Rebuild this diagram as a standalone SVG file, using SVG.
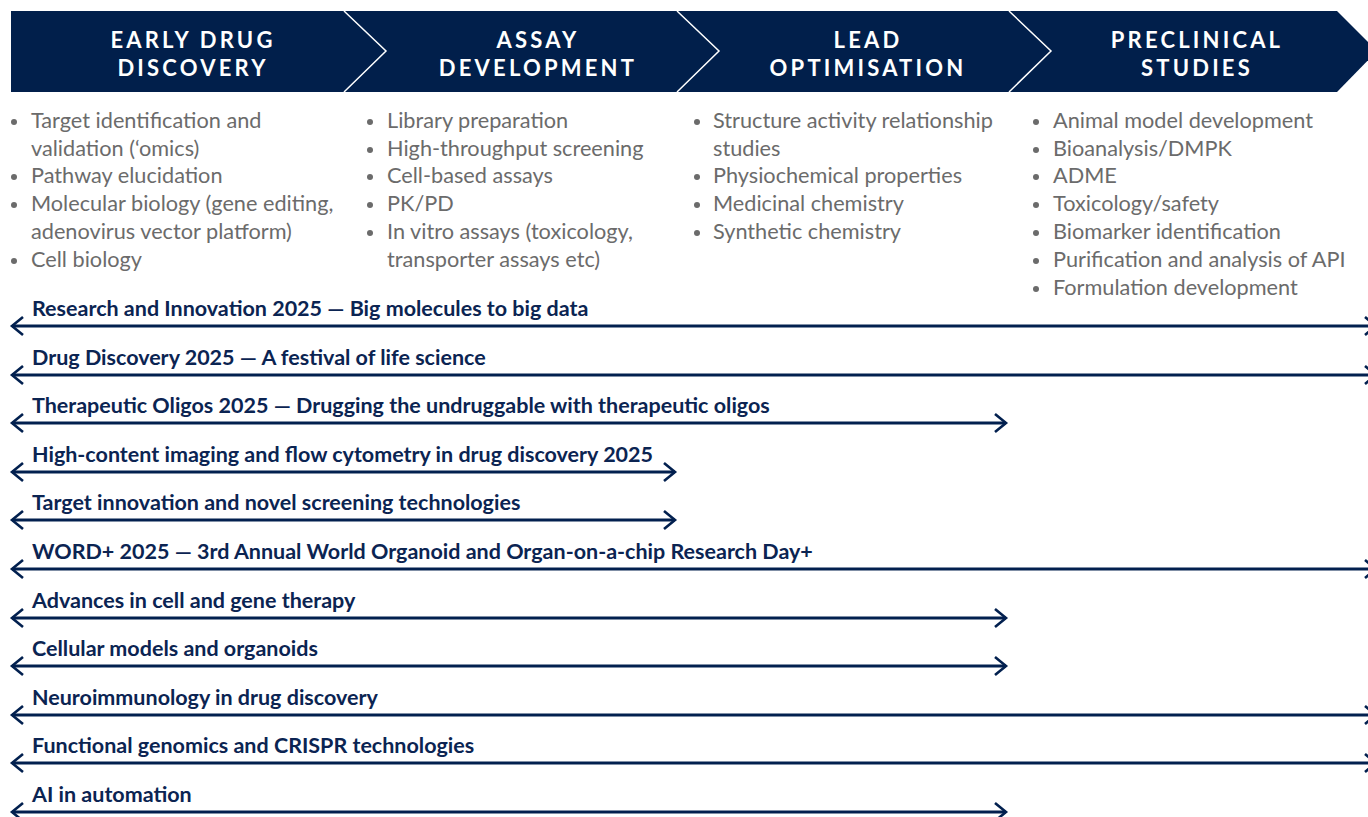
<svg xmlns="http://www.w3.org/2000/svg" width="1368" height="817" viewBox="0 0 1368 817">
<defs>
<style>
.hd{font-family:Lato,"Open Sans","Liberation Sans",sans-serif;font-weight:700;font-size:22px;fill:#ffffff;letter-spacing:3.2px;text-anchor:middle}
.bl{font-family:Lato,"Open Sans","Liberation Sans",sans-serif;font-size:21.7px;fill:#6b6b6b}
.ev{font-family:Lato,"Open Sans","Liberation Sans",sans-serif;font-weight:700;font-size:21.5px;fill:#0b2452}
.dot{fill:#6b6b6b}
.sep{fill:none;stroke:#ffffff;stroke-width:1.5}
.ar{stroke:#02204f;stroke-width:3;fill:none;marker-start:url(#ah);marker-end:url(#ah)}
</style>
<marker id="ah" viewBox="-13 -11 15 22" refX="0" refY="0" markerWidth="15" markerHeight="22" markerUnits="userSpaceOnUse" orient="auto-start-reverse" overflow="visible">
<path d="M-11,-9 L0,0 L-11,9" fill="none" stroke="#02204f" stroke-width="2.6"/>
</marker>
</defs>
<rect width="1368" height="817" fill="#ffffff"/>

<g id="header">
<polygon points="11,11 1337,11 1377,51 1337,92 11,92" fill="#011f4b"/>
<polyline class="sep" points="344,11 386,51 344,92"/>
<polyline class="sep" points="677,11 719,51 677,92"/>
<polyline class="sep" points="1009,11 1051,51 1009,92"/>
</g>

<g id="stage-early">
<text class="hd" x="193" y="48">EARLY DRUG</text>
<text class="hd" x="193" y="76">DISCOVERY</text>
<circle class="dot" cx="14" cy="122" r="3"/>
<text class="bl" x="31" y="128">Target identification and</text>
<text class="bl" x="31" y="156">validation (‘omics)</text>
<circle class="dot" cx="14" cy="177" r="3"/>
<text class="bl" x="31" y="183">Pathway elucidation</text>
<circle class="dot" cx="14" cy="205" r="3"/>
<text class="bl" x="31" y="211">Molecular biology (gene editing,</text>
<text class="bl" x="31" y="239">adenovirus vector platform)</text>
<circle class="dot" cx="14" cy="261" r="3"/>
<text class="bl" x="31" y="267">Cell biology</text>
</g>

<g id="stage-assay">
<text class="hd" x="538" y="48">ASSAY</text>
<text class="hd" x="538" y="76">DEVELOPMENT</text>
<circle class="dot" cx="370" cy="122" r="3"/>
<text class="bl" x="387" y="128">Library preparation</text>
<circle class="dot" cx="370" cy="150" r="3"/>
<text class="bl" x="387" y="156">High-throughput screening</text>
<circle class="dot" cx="370" cy="177" r="3"/>
<text class="bl" x="387" y="183">Cell-based assays</text>
<circle class="dot" cx="370" cy="205" r="3"/>
<text class="bl" x="387" y="211">PK/PD</text>
<circle class="dot" cx="370" cy="233" r="3"/>
<text class="bl" x="387" y="239">In vitro assays (toxicology,</text>
<text class="bl" x="387" y="267">transporter assays etc)</text>
</g>

<g id="stage-lead">
<text class="hd" x="868" y="48">LEAD</text>
<text class="hd" x="868" y="76">OPTIMISATION</text>
<circle class="dot" cx="697" cy="122" r="3"/>
<text class="bl" x="713" y="128">Structure activity relationship</text>
<text class="bl" x="713" y="156">studies</text>
<circle class="dot" cx="697" cy="177" r="3"/>
<text class="bl" x="713" y="183">Physiochemical properties</text>
<circle class="dot" cx="697" cy="205" r="3"/>
<text class="bl" x="713" y="211">Medicinal chemistry</text>
<circle class="dot" cx="697" cy="233" r="3"/>
<text class="bl" x="713" y="239">Synthetic chemistry</text>
</g>

<g id="stage-preclinical">
<text class="hd" x="1197" y="48">PRECLINICAL</text>
<text class="hd" x="1197" y="76">STUDIES</text>
<circle class="dot" cx="1036" cy="122" r="3"/>
<text class="bl" x="1053" y="128">Animal model development</text>
<circle class="dot" cx="1036" cy="150" r="3"/>
<text class="bl" x="1053" y="156">Bioanalysis/DMPK</text>
<circle class="dot" cx="1036" cy="177" r="3"/>
<text class="bl" x="1053" y="183">ADME</text>
<circle class="dot" cx="1036" cy="205" r="3"/>
<text class="bl" x="1053" y="211">Toxicology/safety</text>
<circle class="dot" cx="1036" cy="233" r="3"/>
<text class="bl" x="1053" y="239">Biomarker identification</text>
<circle class="dot" cx="1036" cy="261" r="3"/>
<text class="bl" x="1053" y="267">Purification and analysis of API</text>
<circle class="dot" cx="1036" cy="289" r="3"/>
<text class="bl" x="1053" y="295">Formulation development</text>
</g>

<g id="connectors">
<line class="ar" x1="12" y1="326" x2="1376" y2="326"/>
<line class="ar" x1="12" y1="375" x2="1376" y2="375"/>
<line class="ar" x1="12" y1="423" x2="1006" y2="423"/>
<line class="ar" x1="12" y1="472" x2="675" y2="472"/>
<line class="ar" x1="12" y1="520" x2="675" y2="520"/>
<line class="ar" x1="12" y1="569" x2="1376" y2="569"/>
<line class="ar" x1="12" y1="618" x2="1006" y2="618"/>
<line class="ar" x1="12" y1="666" x2="1006" y2="666"/>
<line class="ar" x1="12" y1="715" x2="1376" y2="715"/>
<line class="ar" x1="12" y1="763" x2="1376" y2="763"/>
<line class="ar" x1="12" y1="812" x2="1006" y2="812"/>
</g>

<g id="events">
<text class="ev" x="32" y="316">Research and Innovation 2025 — Big molecules to big data</text>
<text class="ev" x="32" y="365">Drug Discovery 2025 — A festival of life science</text>
<text class="ev" x="32" y="413">Therapeutic Oligos 2025 — Drugging the undruggable with therapeutic oligos</text>
<text class="ev" x="32" y="462">High-content imaging and flow cytometry in drug discovery 2025</text>
<text class="ev" x="32" y="510">Target innovation and novel screening technologies</text>
<text class="ev" x="32" y="559">WORD+ 2025 — 3rd Annual World Organoid and Organ-on-a-chip Research Day+</text>
<text class="ev" x="32" y="608">Advances in cell and gene therapy</text>
<text class="ev" x="32" y="656">Cellular models and organoids</text>
<text class="ev" x="32" y="705">Neuroimmunology in drug discovery</text>
<text class="ev" x="32" y="753">Functional genomics and CRISPR technologies</text>
<text class="ev" x="32" y="802">AI in automation</text>
</g>
</svg>
